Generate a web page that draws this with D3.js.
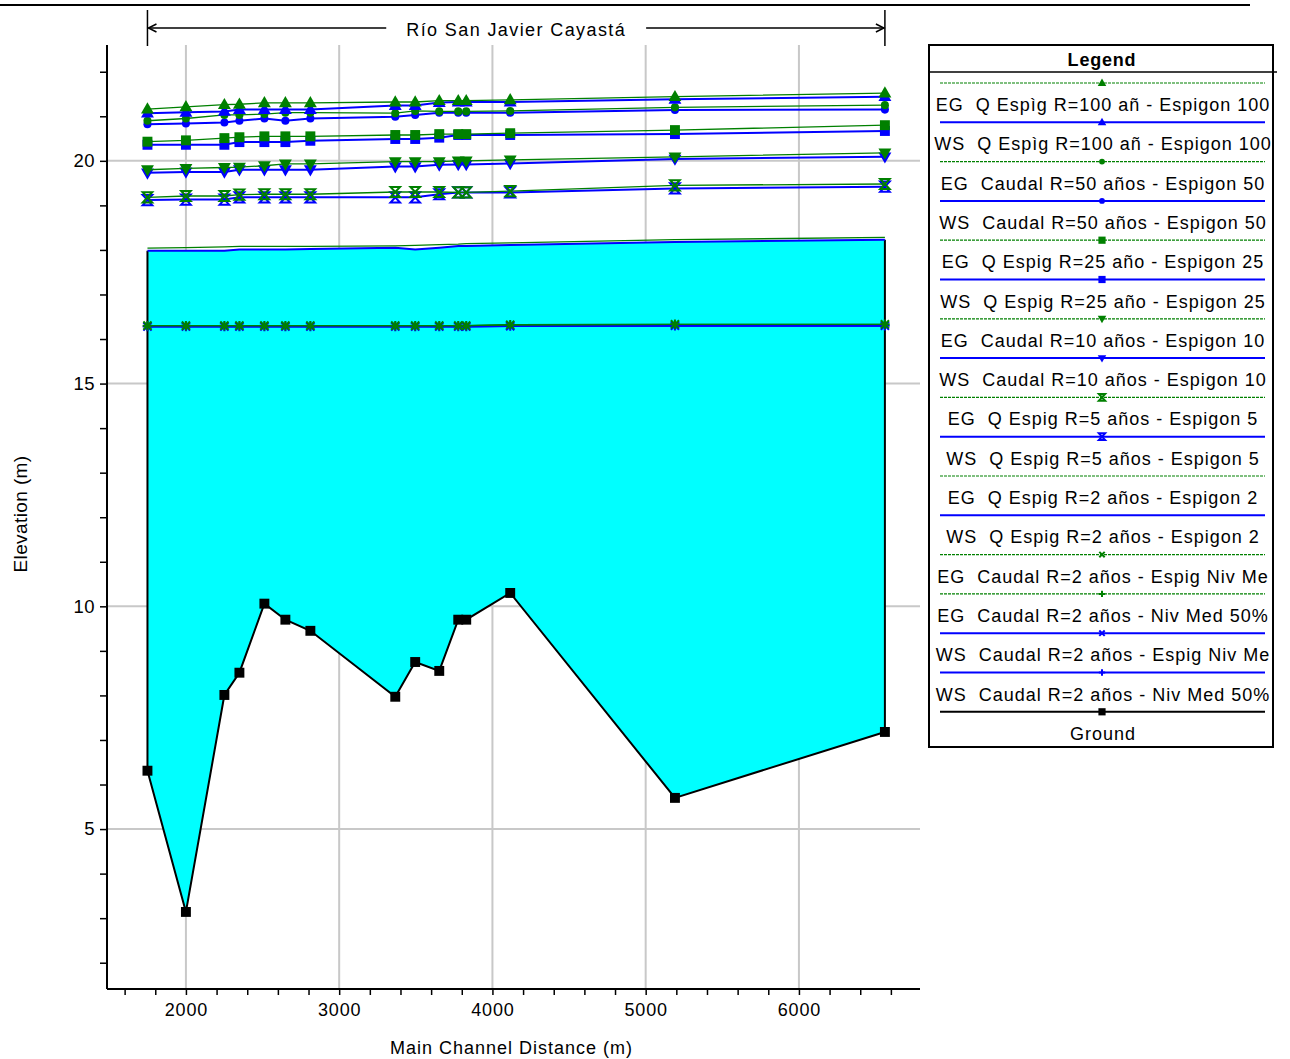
<!DOCTYPE html>
<html><head><meta charset="utf-8">
<script src="https://cdn.jsdelivr.net/npm/d3@7"></script>
<style>
body{margin:0;background:#fff;}
svg{font-family:"Liberation Sans",Arial,sans-serif;}
text{white-space:pre;}
</style></head>
<body><svg id="chart" width="1290" height="1059"></svg>
<script>
// ---- data ----
const stations = [1749, 2000, 2251, 2349, 2512, 2649, 2812, 3366, 3496, 3653, 3777, 3829, 4116, 5191, 6561];
const eg100 = [21.16, 21.21, 21.26, 21.27, 21.30, 21.30, 21.30, 21.32, 21.32, 21.35, 21.35, 21.35, 21.37, 21.44, 21.52];
const ws100 = [21.07, 21.09, 21.11, 21.15, 21.15, 21.15, 21.15, 21.24, 21.24, 21.31, 21.32, 21.32, 21.32, 21.38, 21.44];
const eg50  = [20.90, 20.95, 21.03, 21.03, 21.05, 21.08, 21.08, 21.07, 21.12, 21.11, 21.11, 21.11, 21.12, 21.20, 21.25];
const ws50  = [20.82, 20.84, 20.86, 20.90, 20.95, 20.90, 20.95, 20.99, 21.03, 21.08, 21.08, 21.08, 21.08, 21.14, 21.15];
const eg25  = [20.43, 20.46, 20.51, 20.53, 20.55, 20.55, 20.55, 20.58, 20.58, 20.60, 20.60, 20.60, 20.62, 20.69, 20.80];
const ws25  = [20.36, 20.36, 20.36, 20.42, 20.42, 20.42, 20.45, 20.49, 20.49, 20.52, 20.58, 20.58, 20.58, 20.60, 20.67];
const eg10  = [19.80, 19.83, 19.85, 19.86, 19.89, 19.93, 19.93, 19.98, 19.98, 19.98, 20.00, 20.00, 20.02, 20.09, 20.18];
const ws10  = [19.73, 19.75, 19.75, 19.80, 19.80, 19.80, 19.80, 19.87, 19.87, 19.91, 19.92, 19.92, 19.94, 20.04, 20.09];
const eg5   = [19.18, 19.21, 19.21, 19.24, 19.25, 19.25, 19.25, 19.30, 19.30, 19.30, 19.29, 19.29, 19.32, 19.45, 19.48];
const ws5   = [19.12, 19.13, 19.13, 19.18, 19.18, 19.18, 19.18, 19.18, 19.18, 19.25, 19.29, 19.29, 19.29, 19.38, 19.42];
const eg2   = [18.04, 18.05, 18.07, 18.08, 18.08, 18.08, 18.08, 18.09, 18.10, 18.12, 18.13, 18.14, 18.16, 18.23, 18.28];
const ws2   = [17.98, 17.98, 17.98, 18.01, 18.01, 18.01, 18.02, 18.05, 18.01, 18.05, 18.09, 18.09, 18.11, 18.18, 18.23];
const egNivEsp = [16.30, 16.30, 16.30, 16.30, 16.30, 16.30, 16.30, 16.30, 16.30, 16.30, 16.30, 16.30, 16.32, 16.33, 16.33];
const egNiv50  = [16.30, 16.30, 16.30, 16.30, 16.30, 16.30, 16.30, 16.30, 16.30, 16.30, 16.30, 16.30, 16.32, 16.33, 16.33];
const wsNivEsp = [16.28, 16.28, 16.28, 16.28, 16.28, 16.28, 16.28, 16.28, 16.28, 16.28, 16.28, 16.28, 16.29, 16.30, 16.30];
const wsNiv50  = [16.28, 16.28, 16.28, 16.28, 16.28, 16.28, 16.28, 16.28, 16.28, 16.28, 16.28, 16.28, 16.29, 16.30, 16.30];
const ground = [6.31, 3.14, 8.01, 8.51, 10.06, 9.70, 9.45, 7.97, 8.75, 8.55, 9.70, 9.70, 10.30, 5.70, 7.18];

const seriesNames = [
  "EG  Q Espìg R=100 añ - Espigon 100",
  "WS  Q Espìg R=100 añ - Espigon 100",
  "EG  Caudal R=50 años - Espigon 50",
  "WS  Caudal R=50 años - Espigon 50",
  "EG  Q Espig R=25 año - Espigon 25",
  "WS  Q Espig R=25 año - Espigon 25",
  "EG  Caudal R=10 años - Espigon 10",
  "WS  Caudal R=10 años - Espigon 10",
  "EG  Q Espig R=5 años - Espigon 5",
  "WS  Q Espig R=5 años - Espigon 5",
  "EG  Q Espig R=2 años - Espigon 2",
  "WS  Q Espig R=2 años - Espigon 2",
  "EG  Caudal R=2 años - Espig Niv Me",
  "EG  Caudal R=2 años - Niv Med 50%",
  "WS  Caudal R=2 años - Espig Niv Me",
  "WS  Caudal R=2 años - Niv Med 50%",
  "Ground"
];
const seriesValues = [eg100, ws100, eg50, ws50, eg25, ws25, eg10, ws10, eg5, ws5, eg2, ws2, egNivEsp, egNiv50, wsNivEsp, wsNiv50, ground];
const seriesColors = ["#008000","#0000ff","#008000","#0000ff","#008000","#0000ff","#008000","#0000ff","#008000","#0000ff","#008000","#0000ff","#008000","#008000","#0000ff","#0000ff","#000000"];
const seriesMarkers = ["triUp","triUp","circle","circle","square","square","triDown","triDown","hourglass","hourglass","none","none","cross","plus","cross","plus","square"];

const xTicks = d3.range(1600, 6601, 200);
const yTicks = d3.range(2, 23, 1);
const riverName = "Río San Javier Cayastá";
const xTitle = "Main Channel Distance (m)";
const yTitle = "Elevation (m)";
const legendTitle = "Legend";

// ---- layout ----
const svg = d3.select("#chart");
const L = 107, R = 920, T = 45, B = 989;
const x = d3.scaleLinear().domain([1485, 6790]).range([L, R]);
const y = d3.scaleLinear().domain([1.41, 22.6]).range([B, T]);

// top rule
svg.append("line").attr("x1",0).attr("x2",1250).attr("y1",5).attr("y2",5).attr("stroke","#000").attr("stroke-width",2);

// grid
const grid = svg.append("g");
[2000,3000,4000,5000,6000].forEach(v=>{
  grid.append("line").attr("x1",x(v)).attr("x2",x(v)).attr("y1",T).attr("y2",B).attr("stroke","#c8c8c8").attr("stroke-width",2);
});
[5,10,15,20].forEach(v=>{
  grid.append("line").attr("x1",L).attr("x2",R).attr("y1",y(v)).attr("y2",y(v)).attr("stroke","#c8c8c8").attr("stroke-width",2);
});

// water fill
const fillPts = stations.map((s,i)=>[x(s), y(ws2[i])]).concat(stations.map((s,i)=>[x(s), y(ground[i])]).reverse());
svg.append("path").attr("d", d3.line()(fillPts)+"Z").attr("fill","#00ffff").attr("stroke","none");
[0, stations.length-1].forEach(i=>{
  svg.append("line").attr("x1",x(stations[i])).attr("x2",x(stations[i]))
    .attr("y1",y(ground[i])).attr("y2",y(ws2[i])).attr("stroke","#000").attr("stroke-width",2);
});

// markers
function markerPath(type, s){
  switch(type){
    case "triUp": return `M0,${-s} L${s*0.95},${s*0.65} L${-s*0.95},${s*0.65} Z`;
    case "triDown": return `M0,${s} L${s*0.95},${-s*0.65} L${-s*0.95},${-s*0.65} Z`;
    case "square": return `M${-s*0.8},${-s*0.8} H${s*0.8} V${s*0.8} H${-s*0.8} Z`;
    case "circle": return `M${-s*0.65},0 A${s*0.65},${s*0.65} 0 1,0 ${s*0.65},0 A${s*0.65},${s*0.65} 0 1,0 ${-s*0.65},0 Z`;
    case "hourglass": return `M${-s*0.7},${-s*0.75} H${s*0.7} L${-s*0.7},${s*0.75} H${s*0.7} Z`;
    case "cross": return `M${-s*0.6},${-s*0.6} L${s*0.6},${s*0.6} M${s*0.6},${-s*0.6} L${-s*0.6},${s*0.6}`;
    case "plus": return `M${-s*0.7},0 H${s*0.7} M0,${-s*0.7} V${s*0.7}`;
  }
  return "";
}
function drawMarker(g, type, color, cx, cy, s){
  if(type==="none") return;
  const p = g.append("path").attr("d", markerPath(type, s)).attr("transform",`translate(${cx},${cy})`);
  if(type==="cross"||type==="plus"||type==="hourglass") p.attr("fill","none").attr("stroke",color).attr("stroke-width",2);
  else p.attr("fill",color).attr("stroke","none");
}

const line = d3.line().x(d=>x(d[0])).y(d=>y(d[1]));
const plotG = svg.append("g");
for(let k = seriesNames.length-1; k>=0; k--){
  const vals = seriesValues[k];
  const pts = stations.map((s,i)=>[s, vals[i]]);
  const col = seriesColors[k];
  const isEG = col==="#008000";
  plotG.append("path").attr("d", line(pts)).attr("fill","none").attr("stroke",col)
    .attr("stroke-width", isEG ? 1.3 : 2);
  const m = seriesMarkers[k];
  const sz = m==="circle" ? 6.2 : (m==="square" ? 6.2 : 6.8);
  pts.forEach(p=>drawMarker(plotG, m, col, x(p[0]), y(p[1]), sz));
}

// axes
const yAxis = d3.axisLeft(y).tickValues(yTicks).tickFormat(d=> d%5===0 ? d : "").tickSize(7).tickPadding(5).tickSizeOuter(0);
const gy = svg.append("g").attr("transform",`translate(${L},0)`).call(yAxis);
gy.select(".domain").attr("stroke","#000").attr("stroke-width",2).attr("d",`M0,${T}V${B}`);
gy.selectAll(".tick line").attr("stroke","#000").attr("stroke-width",1.5);
gy.selectAll("text").attr("font-size",18.5).attr("letter-spacing",0.5).attr("fill","#000").attr("font-family","Liberation Sans, Arial");

const xAxis = d3.axisBottom(x).tickValues(xTicks).tickFormat(d=> d%1000===0 ? d : "").tickSize(6).tickPadding(8).tickSizeOuter(0);
const gx = svg.append("g").attr("transform",`translate(0,${B})`).call(xAxis);
gx.select(".domain").attr("stroke","#000").attr("stroke-width",2).attr("d",`M${L},0H${R}`);
gx.selectAll(".tick line").attr("stroke","#000").attr("stroke-width",1.5);
gx.selectAll("text").attr("font-size",18).attr("letter-spacing",0.8).attr("fill","#000").attr("font-family","Liberation Sans, Arial");

svg.append("text").attr("x",(L+R)/2 - 2).attr("y",1054).attr("text-anchor","middle").attr("font-size",18).attr("letter-spacing",1).text(xTitle);
svg.append("text").attr("transform",`translate(27,${(T+B)/2 - 3}) rotate(-90)`).attr("text-anchor","middle").attr("font-size",19).attr("letter-spacing",0.4).text(yTitle);

// reach bracket title
const x0 = x(stations[0]), x1 = x(stations[stations.length-1]);
const by = 28, mid = (x0+x1)/2;
const br = svg.append("g").attr("stroke","#000").attr("stroke-width",1.5).attr("fill","none");
br.append("line").attr("x1",x0).attr("x2",x0).attr("y1",10).attr("y2",46);
br.append("line").attr("x1",x1).attr("x2",x1).attr("y1",10).attr("y2",46);
const tt = svg.append("text").attr("x",mid).attr("y",by+8).attr("text-anchor","middle").attr("font-size",18).attr("letter-spacing",1.4).text(riverName);
const tw = tt.node().getComputedTextLength();
br.append("line").attr("x1",x0+1).attr("x2",mid-tw/2-20).attr("y1",by).attr("y2",by);
br.append("line").attr("x1",mid+tw/2+20).attr("x2",x1-1).attr("y1",by).attr("y2",by);
br.append("path").attr("d",`M${x0+9},${by-4} L${x0+1},${by} L${x0+9},${by+4}`);
br.append("path").attr("d",`M${x1-9},${by-4} L${x1-1},${by} L${x1-9},${by+4}`);

// legend
const lgL = 929, lgR = 1273, lgT = 45, lgB = 747;
const lg = svg.append("g");
svg.append("clipPath").attr("id","lgclip").append("rect").attr("x",lgL).attr("y",lgT).attr("width",lgR-lgL).attr("height",lgB-lgT);
lg.append("rect").attr("x",lgL).attr("y",lgT).attr("width",lgR-lgL).attr("height",lgB-lgT).attr("fill","#fff").attr("stroke","#000").attr("stroke-width",2);
lg.append("line").attr("x1",lgL).attr("x2",lgR+4).attr("y1",72).attr("y2",72).attr("stroke","#000").attr("stroke-width",1.5);
lg.append("text").attr("x",(lgL+lgR)/2+1).attr("y",66).attr("text-anchor","middle").attr("font-size",18).attr("font-weight","bold").attr("letter-spacing",0.8).text(legendTitle);
const rowStep = 39.3, row0 = 83;
const lgt = lg.append("g").attr("clip-path","url(#lgclip)");
seriesNames.forEach((name,k)=>{
  const ly = row0 + k*rowStep;
  const col = seriesColors[k];
  const isEG = col==="#008000";
  lgt.append("line").attr("x1",940).attr("x2",1265).attr("y1",ly).attr("y2",ly).attr("stroke",col)
    .attr("stroke-width", isEG?1.2:2).attr("stroke-dasharray", isEG ? "3,1" : null);
  drawMarker(lgt, seriesMarkers[k], col, 1102, ly, 4.5);
  lgt.append("text").attr("x",1103).attr("y",ly+28).attr("text-anchor","middle").attr("font-size",18).attr("letter-spacing",1).attr("fill","#000").text(name);
});
</script></body></html>
